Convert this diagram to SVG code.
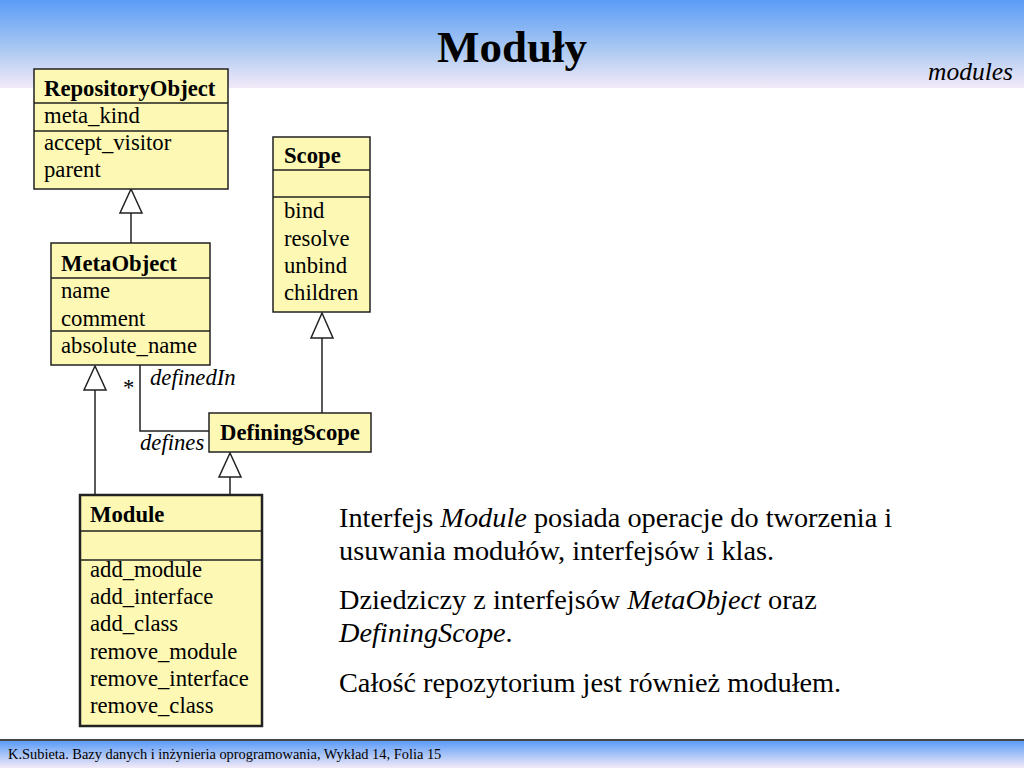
<svg xmlns="http://www.w3.org/2000/svg" width="1024" height="768" viewBox="0 0 1024 768">
<defs>
<linearGradient id="hdr" x1="0" y1="0" x2="0" y2="1">
<stop offset="0" stop-color="#5b9cf7"/>
<stop offset="0.55" stop-color="#a9c8f2"/>
<stop offset="1" stop-color="#f3eaf8"/>
</linearGradient>
<linearGradient id="ftr" x1="0" y1="0" x2="0" y2="1">
<stop offset="0" stop-color="#5b9cf7"/>
<stop offset="1" stop-color="#f3eaf8"/>
</linearGradient>
<style>
.box{fill:#fdf9b4;stroke:#222;stroke-width:1.5}
.thick{stroke-width:2.5}
.sep{stroke:#222;stroke-width:1.5}
.t{font-family:"Liberation Serif","Times New Roman",serif;font-size:22.7px;fill:#000}
.b{font-weight:bold}
.i{font-style:italic}
.body{font-family:"Liberation Serif","Times New Roman",serif;font-size:28.3px;fill:#000}
.ln{stroke:#222;stroke-width:1.5;fill:none}
.tri{fill:#fff;stroke:#222;stroke-width:1.5}
</style>
</defs>
<rect x="0" y="0" width="1024" height="768" fill="#fff"/>
<rect x="0" y="0" width="1024" height="88" fill="url(#hdr)"/>
<rect x="0" y="739" width="1024" height="2" fill="#444"/>
<rect x="0" y="741" width="1024" height="27" fill="url(#ftr)"/>
<text x="512" y="62" text-anchor="middle" font-family="Liberation Serif, serif" font-size="45" font-weight="bold">Moduły</text>
<text x="1013" y="80" text-anchor="end" font-family="Liberation Serif, serif" font-size="25.5" font-style="italic">modules</text>
<text x="8" y="759" font-family="Liberation Serif, serif" font-size="14.4">K.Subieta. Bazy danych i inżynieria oprogramowania, Wykład 14, Folia 15</text>

<g id="connectors">
<line class="ln" x1="131" y1="213" x2="131" y2="243"/>
<polygon class="tri" points="131,189 120,213 142,213"/>
<line class="ln" x1="322" y1="338" x2="322" y2="413"/>
<polygon class="tri" points="322,313 311,338 333,338"/>
<line class="ln" x1="95" y1="390" x2="95" y2="495"/>
<polygon class="tri" points="95,366 84,390 106,390"/>
<line class="ln" x1="230" y1="477" x2="230" y2="495"/>
<polygon class="tri" points="230,453 219,477 241,477"/>
<polyline class="ln" points="140,365 140,431 209,431"/>
<text class="t" x="123" y="395" font-size="28">*</text>
<text class="t i" x="150" y="385">definedIn</text>
<text class="t i" x="140" y="450">defines</text>
</g>

<g id="RepositoryObject">
<rect class="box" x="34" y="69" width="194" height="120"/>
<line class="sep" x1="34" y1="103" x2="228" y2="103"/>
<line class="sep" x1="34" y1="131" x2="228" y2="131"/>
<text class="t b" x="44" y="96">RepositoryObject</text>
<text class="t" x="44" y="123">meta_kind</text>
<text class="t" x="44" y="150">accept_visitor</text>
<text class="t" x="44" y="177">parent</text>
</g>

<g id="Scope">
<rect class="box" x="273" y="137" width="97" height="175"/>
<line class="sep" x1="273" y1="170" x2="370" y2="170"/>
<line class="sep" x1="273" y1="197" x2="370" y2="197"/>
<text class="t b" x="284" y="163">Scope</text>
<text class="t" x="284" y="218">bind</text>
<text class="t" x="284" y="246">resolve</text>
<text class="t" x="284" y="273">unbind</text>
<text class="t" x="284" y="300">children</text>
</g>

<g id="MetaObject">
<rect class="box" x="51" y="243" width="159" height="122"/>
<line class="sep" x1="51" y1="278" x2="210" y2="278"/>
<line class="sep" x1="51" y1="331" x2="210" y2="331"/>
<text class="t b" x="61" y="271">MetaObject</text>
<text class="t" x="61" y="298">name</text>
<text class="t" x="61" y="326">comment</text>
<text class="t" x="61" y="353">absolute_name</text>
</g>

<g id="DefiningScope">
<rect class="box" x="209" y="413" width="162" height="39"/>
<text class="t b" x="220" y="440">DefiningScope</text>
</g>

<g id="Module">
<rect class="box thick" x="80" y="495" width="182" height="231"/>
<line class="sep" x1="80" y1="531" x2="262" y2="531" stroke-width="2.5"/>
<line class="sep" x1="80" y1="560" x2="262" y2="560" stroke-width="2.5"/>
<text class="t b" x="90" y="522">Module</text>
<text class="t" x="90" y="577">add_module</text>
<text class="t" x="90" y="604">add_interface</text>
<text class="t" x="90" y="631">add_class</text>
<text class="t" x="90" y="659">remove_module</text>
<text class="t" x="90" y="686">remove_interface</text>
<text class="t" x="90" y="713">remove_class</text>
</g>

<g id="description">
<text class="body" x="339" y="527">Interfejs <tspan font-style="italic">Module</tspan> posiada operacje do tworzenia i</text>
<text class="body" x="339" y="560">usuwania modułów, interfejsów i klas.</text>
<text class="body" x="339" y="609">Dziedziczy z interfejsów <tspan font-style="italic">MetaObject</tspan> oraz</text>
<text class="body" x="339" y="642"><tspan font-style="italic">DefiningScope</tspan>.</text>
<text class="body" x="339" y="692">Całość repozytorium jest również modułem.</text>
</g>
</svg>
